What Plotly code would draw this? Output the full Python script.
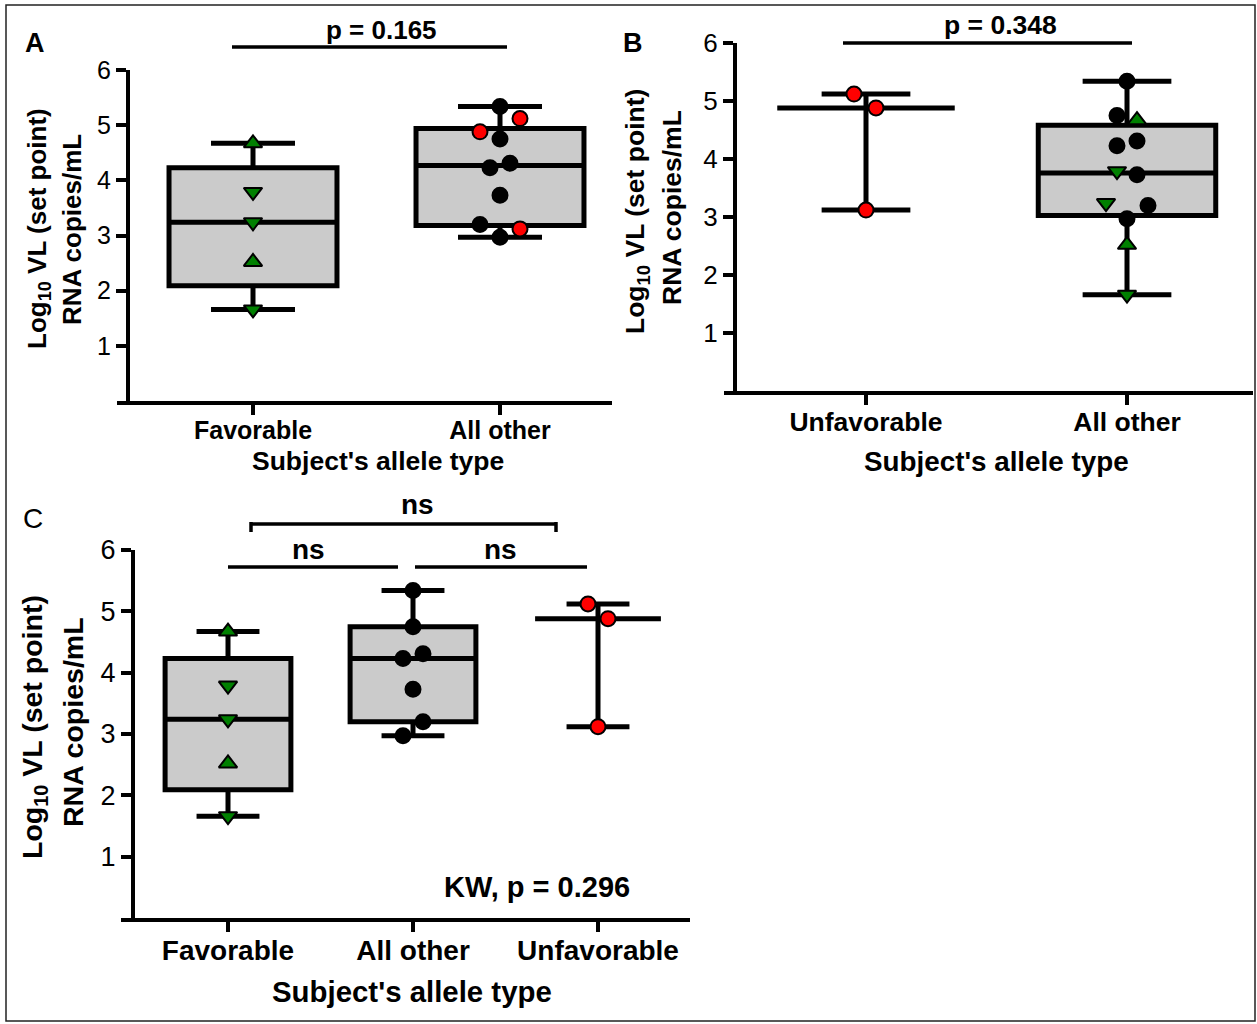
import math
import plotly.graph_objects as go

# ---------------- data ----------------
cats_A = ["Favorable", "All other"]
cats_B = ["Unfavorable", "All other"]
cats_C = ["Favorable", "All other", "Unfavorable"]

favorable_vl = [4.67, 3.79, 3.24, 2.52, 1.66]          # green triangles
favorable_sym = ["triangle-up", "triangle-down", "triangle-down", "triangle-up", "triangle-down"]
other_vl = [5.34, 4.75, 4.31, 4.23, 3.73, 3.20, 2.97]   # black circles
unfavorable_vl = [5.12, 4.88, 3.12]                      # red circles

y_ticks = [1, 2, 3, 4, 5, 6]
y_ticktext = ["1", "2", "3", "4", "5", "6"]

p_A = "p = 0.165"
p_B = "p = 0.348"
kw_C = "KW, p = 0.296"

# ---------------- style ----------------
W, H = 1257, 1024
FONT = "Liberation Sans, Arial, sans-serif"
GREEN = "#008000"
RED = "#ff0000"
BLACK = "#000000"
BOXFILL = "#cbcbcb"


def px(x):
    return x / W


def py(y):
    return 1 - y / H


def pct(vals, p):
    s = sorted(vals)
    n = len(s)
    r = (n + 1) * p
    if r <= 1:
        return s[0]
    if r >= n:
        return s[-1]
    lo = int(math.floor(r))
    f = r - lo
    return s[lo - 1] + f * (s[lo] - s[lo - 1])


def stats(vals):
    med = pct(vals, 0.5)
    if len(vals) < 4:
        q1 = q3 = med
    else:
        q1, q3 = pct(vals, 0.25), pct(vals, 0.75)
    return q1, med, q3, min(vals), max(vals)


def fav_pts():
    return list(favorable_vl), list(favorable_sym), [GREEN] * len(favorable_vl)


def oth_pts():
    return list(other_vl), ["circle"] * len(other_vl), [BLACK] * len(other_vl)


def unf_pts():
    return list(unfavorable_vl), ["circle"] * len(unfavorable_vl), [RED] * len(unfavorable_vl)


def combine(*groups):
    v, s, c = [], [], []
    for g in groups:
        v += g[0]
        s += g[1]
        c += g[2]
    return v, s, c


# horizontal jitter of points (pixels), in the order of the combined groups
jit_A = [[0, 0, 0, 0, 0],
         [0, 0, 10, -10, 0, -20, 0, 20, -20, 20]]
jit_B = [[-12, 10, 0],
         [10, -10, -21, 0, 0, 0, -10, 10, -10, 10, 21, 0]]
jit_C = [[0, 0, 0, 0, 0],
         [0, 0, 10, -10, 0, 10, -10],
         [-10, 10, 0]]

# x0: left end of the x-axis line, yx: position of the y-axis line
panels = [
    dict(name="A", xa="x", ya="y", cats=cats_A,
         groups=[fav_pts(), combine(oth_pts(), unf_pts())], jit=jit_A,
         x0=117, yx=128, x1=612, c0=253, unit=247, ytop=70, ybot=401,
         tickfs=25, ytickfs=25),
    dict(name="B", xa="x2", ya="y2", cats=cats_B,
         groups=[unf_pts(), combine(fav_pts(), oth_pts())], jit=jit_B,
         x0=724, yx=735, x1=1253, c0=866, unit=261, ytop=43, ybot=391,
         tickfs=26.5, ytickfs=26),
    dict(name="C", xa="x3", ya="y3", cats=cats_C,
         groups=[fav_pts(), oth_pts(), unf_pts()], jit=jit_C,
         x0=121, yx=133, x1=690, c0=228, unit=185, ytop=550, ybot=918,
         tickfs=28, ytickfs=27),
]

fig = go.Figure()
layout = {}

for i, P in enumerate(panels):
    sfx = "" if i == 0 else str(i + 1)
    for k, g in enumerate(P["groups"]):
        q1, med, q3, lo, hi = stats(g[0])
        fig.add_trace(go.Box(
            x=[k], q1=[q1], median=[med], q3=[q3], lowerfence=[lo], upperfence=[hi],
            width=0.68, whiskerwidth=0.5, fillcolor=BOXFILL,
            line=dict(color=BLACK, width=5), boxpoints=False,
            xaxis=P["xa"], yaxis=P["ya"], showlegend=False, hoverinfo="skip"))
    for k, g in enumerate(P["groups"]):
        xs = [k + j / P["unit"] for j in P["jit"][k]]
        sizes = [16 if s.startswith("triangle") else 15 for s in g[1]]
        fig.add_trace(go.Scatter(
            x=xs, y=g[0], mode="markers",
            marker=dict(symbol=g[1], color=g[2], size=sizes, opacity=1,
                        line=dict(color=BLACK, width=2)),
            xaxis=P["xa"], yaxis=P["ya"], showlegend=False, hoverinfo="skip"))

    xr = [(P["x0"] - P["c0"]) / P["unit"], (P["x1"] - P["c0"]) / P["unit"]]
    layout["xaxis" + sfx] = dict(
        domain=[px(P["x0"]), px(P["x1"])], range=xr, anchor=P["ya"],
        tickvals=list(range(len(P["cats"]))), ticktext=P["cats"],
        showline=True, linewidth=4, linecolor=BLACK, ticks="outside",
        ticklen=10, tickwidth=4, tickcolor=BLACK, showgrid=False, zeroline=False,
        automargin=False, ticklabelstandoff=-6,
        tickfont=dict(family=FONT, size=P["tickfs"], color=BLACK, weight="bold"),
        fixedrange=True)
    layout["yaxis" + sfx] = dict(
        domain=[py(P["ybot"]), py(P["ytop"])], range=[0, 6],
        anchor="free", position=px(P["yx"]),
        tickvals=y_ticks, ticktext=y_ticktext,
        showline=True, linewidth=4, linecolor=BLACK, ticks="outside",
        ticklen=10, tickwidth=4, tickcolor=BLACK, showgrid=False, zeroline=False,
        automargin=False,
        tickfont=dict(family=FONT, size=P["ytickfs"], color=BLACK),
        fixedrange=True)

annotations = []


def text(x, y, t, size, bold=True, angle=0):
    annotations.append(dict(
        x=px(x), y=py(y), xref="paper", yref="paper", text=t, showarrow=False,
        xanchor="center", yanchor="middle", textangle=angle,
        font=dict(family=FONT, size=size, color=BLACK, weight="bold" if bold else "normal")))


ytitle1 = "Log<sub>10</sub> VL (set point)"
ytitle2 = "RNA copies/mL"
xtitle = "Subject's allele type"

# panel A
text(35, 43, "A", 27)
text(381, 30, p_A, 26)
text(38, 229, ytitle1, 26, angle=-90)
text(72, 230, ytitle2, 26, angle=-90)
text(378, 461, xtitle, 26.5)
# panel B
text(633, 43, "B", 27)
text(1000, 25, p_B, 26.5)
text(637, 212, ytitle1, 26.5, angle=-90)
text(672, 208, ytitle2, 26.5, angle=-90)
text(996, 461, xtitle, 27.8)
# panel C
text(33, 518, "C", 28, bold=False)
text(417, 504, "ns", 28)
text(308, 549, "ns", 28)
text(500, 549, "ns", 28)
text(34, 727, ytitle1, 28.5, angle=-90)
text(73, 722, ytitle2, 28.5, angle=-90)
text(537, 887, kw_C, 29)
text(412, 991, xtitle, 29.4)

shapes = []


def seg(x0, y0, x1, y1, w=3.5):
    shapes.append(dict(type="line", xref="paper", yref="paper",
                       x0=px(x0), y0=py(y0), x1=px(x1), y1=py(y1),
                       line=dict(color=BLACK, width=w)))


seg(232, 47, 507, 47)
seg(843, 43, 1132, 43)
seg(250, 524, 557, 524)
seg(251, 522, 251, 532)
seg(556, 522, 556, 532)
seg(228, 567, 398, 567)
seg(415, 567, 587, 567)
shapes.append(dict(type="rect", xref="paper", yref="paper",
                   x0=px(6), y0=py(1021), x1=px(1255), y1=py(5),
                   line=dict(color="#222222", width=1.5)))

fig.update_layout(
    template="none",
    width=W, height=H, autosize=False,
    margin=dict(l=0, r=0, t=0, b=0, pad=0, autoexpand=False),
    paper_bgcolor="white", plot_bgcolor="white",
    annotations=annotations, shapes=shapes,
    **layout)

fig.write_html("out.html", config={"displayModeBar": False},
               post_script="document.body.style.margin='0px';")
